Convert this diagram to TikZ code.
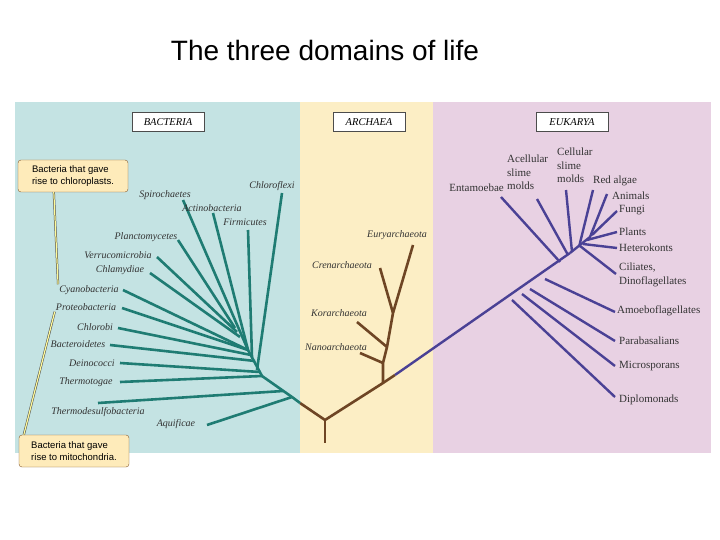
\documentclass[tikz,border=0pt]{standalone}
\usepackage{fontspec}
\setmainfont{Liberation Serif}
\newfontfamily\sansf{Liberation Sans}
\begin{document}
\begin{tikzpicture}[x=1pt,y=-1pt,
  bt/.style={line width=2.6pt,color=teal0},
  ar/.style={line width=2.6pt,color=brown0},
  eu/.style={line width=2.4pt,color=purp0},
  bl/.style={font=\itshape\fontsize{10}{11}\selectfont,inner sep=1pt,text=black!80},
  el/.style={font=\fontsize{11}{13.5}\selectfont,inner sep=1pt,align=left,text=black!80},
  hd/.style={draw=black!70,fill=white,font=\itshape\fontsize{10.5}{11}\selectfont,minimum width=72pt,minimum height=19pt,inner sep=1pt},
  call/.style={draw=brown!70!black,fill=yellow!45!orange!25,rounded corners=3pt,font=\sansf\fontsize{9.5}{11.5}\selectfont,align=left,inner sep=2pt,minimum width=110pt,minimum height=32pt}]
\definecolor{teal0}{HTML}{1F7C73}
\definecolor{brown0}{HTML}{6E4524}
\definecolor{purp0}{HTML}{4A4195}
\useasboundingbox (0,0) rectangle (720,540);
\fill[white] (0,0) rectangle (720,540);
\node[font=\sansf\fontsize{28}{32}\selectfont] (title) at (325,50) {The three domains of life};
\fill[fill={rgb,255:red,196;green,227;blue,227}] (15,102) rectangle (300,453);
\fill[fill={rgb,255:red,252;green,238;blue,197}] (300,102) rectangle (433,453);
\fill[fill={rgb,255:red,232;green,209;blue,227}] (433,102) rectangle (711,453);
\node[hd] (hb) at (168,122) {BACTERIA};
\node[hd] (ha) at (369,122) {ARCHAEA};
\node[hd] (he) at (572,122) {EUKARYA};
% root
\coordinate (root) at (325,420);
\coordinate (rb) at (325,443);
\coordinate (bj) at (300,403);
\coordinate (aj) at (383,383);
\coordinate (ej) at (570,253);
\draw[ar] (root) -- (rb);
\draw[ar] (bj) -- (root) -- (aj) -- (395,375);
\draw[eu] (395,375) -- (ej);
% bacteria backbone
\coordinate (b1) at (292,397);
\coordinate (b2) at (262,376);
\coordinate (b3) at (248,350);
\draw[bt] (bj) -- (b1) -- (b2) -- (b3);
\coordinate (tAq) at (207,425); \coordinate (tTd) at (98,403); \coordinate (tTt) at (120,382);
\coordinate (tDe) at (120,363); \coordinate (tBa) at (110,345); \coordinate (tCb) at (118,328);
\coordinate (tPr) at (122,308); \coordinate (tCy) at (123,290); \coordinate (tCh) at (150,273);
\coordinate (tVe) at (157,257); \coordinate (tPl) at (178,240); \coordinate (tSp) at (183,200);
\coordinate (tAc) at (213,213); \coordinate (tFi) at (248,230); \coordinate (tCf) at (282,193);
\draw[bt] (b1) -- (tAq);
\draw[bt] (283,391) -- (tTd);
\draw[bt] (b2) -- (tTt);
\draw[bt] (260,372) -- (tDe);
\draw[bt] (255,361) -- (tBa);
\draw[bt] (251,355) -- (tCb);
\draw[bt] (b3) -- (tPr);
\draw[bt] (b3) -- (tCy);
\draw[bt] (240,337) -- (tCh);
\draw[bt] (237,332) -- (tVe);
\draw[bt] (235,328) -- (tPl);
\draw[bt] (b3) -- (tSp);
\draw[bt] (b3) -- (tAc);
\draw[bt] (252,357) -- (tFi);
\draw[bt] (257,370) -- (tCf);
\node[bl] (lAq) at (176,424) {Aquificae};
\node[bl] (lTd) at (98,412) {Thermodesulfobacteria};
\node[bl] (lTt) at (86,382) {Thermotogae};
\node[bl] (lDe) at (92,363) {Deinococci};
\node[bl] (lBa) at (78,344) {Bacteroidetes};
\node[bl] (lCb) at (95,327) {Chlorobi};
\node[bl] (lPr) at (86,307) {Proteobacteria};
\node[bl] (lCy) at (89,290) {Cyanobacteria};
\node[bl] (lCh) at (120,270) {Chlamydiae};
\node[bl] (lVe) at (118,255) {Verrucomicrobia};
\node[bl] (lPl) at (146,237) {Planctomycetes};
\node[bl] (lSp) at (165,195) {Spirochaetes};
\node[bl] (lAc) at (212,208) {Actinobacteria};
\node[bl] (lFi) at (245,222) {Firmicutes};
\node[bl] (lCf) at (272,186) {Chloroflexi};
% callouts
\node[call] (c1) at (73,176) {Bacteria that gave\\rise to chloroplasts.};
\node[call] (c2) at (74,451) {Bacteria that gave\\rise to mitochondria.};
\draw[black!70,double=yellow!40,double distance=1.2pt,line width=0.5pt] (c1.south west) ++(36,0) -- (lCy.north west);
\draw[black!70,double=yellow!40,double distance=1.2pt,line width=0.5pt] (c2.north west) ++(5,0) -- (lPr.south west);
% archaea
\coordinate (a1) at (383,363); \coordinate (a2) at (387,347); \coordinate (a3) at (393,313);
\draw[ar] (aj) -- (a1) -- (a2) -- (a3) -- (413,245);
\draw[ar] (a1) -- (360,353);
\draw[ar] (a2) -- (357,322);
\draw[ar] (a3) -- (380,268);
\node[bl] (lEa) at (397,235) {Euryarchaeota};
\node[bl] (lCr) at (342,265) {Crenarchaeota};
\node[bl] (lKo) at (339,313) {Korarchaeota};
\node[bl] (lNa) at (336,347) {Nanoarchaeota};
% eukarya
\draw[eu] (ej) -- (590,237) -- (607,194);
\draw[eu] (512,300) -- (615,397);
\draw[eu] (522,294) -- (615,366);
\draw[eu] (530,289) -- (615,341);
\draw[eu] (545,279) -- (615,312);
\draw[eu] (580,246) -- (616,274);
\draw[eu] (583,244) -- (617,248);
\draw[eu] (587,240) -- (617,232);
\draw[eu] (592,235) -- (617,211);
\draw[eu] (579,247) -- (593,190);
\draw[eu] (572,252) -- (566,190);
\draw[eu] (568,255) -- (537,199);
\draw[eu] (560,262) -- (501,197);
\node[el,anchor=east] (lEn) at (505,188) {Entamoebae};
\node[el,anchor=north west] (lAs) at (506,154) {Acellular\\slime\\molds};
\node[el,anchor=north west] (lCs) at (556,147) {Cellular\\slime\\molds};
\node[el,anchor=west] (lRa) at (592,181) {Red algae};
\node[el,anchor=west] (lAn) at (611,196) {Animals};
\node[el,anchor=west] (lFu) at (618,210) {Fungi};
\node[el,anchor=west] (lPa) at (618,232) {Plants};
\node[el,anchor=west] (lHe) at (618,248) {Heterokonts};
\node[el,anchor=north west] (lCi) at (618,262) {Ciliates,\\Dinoflagellates};
\node[el,anchor=west] (lAm) at (616,311) {Amoeboflagellates};
\node[el,anchor=west] (lPb) at (618,341) {Parabasalians};
\node[el,anchor=west] (lMi) at (618,366) {Microsporans};
\node[el,anchor=west] (lDi) at (618,400) {Diplomonads};
\end{tikzpicture}
\end{document}
